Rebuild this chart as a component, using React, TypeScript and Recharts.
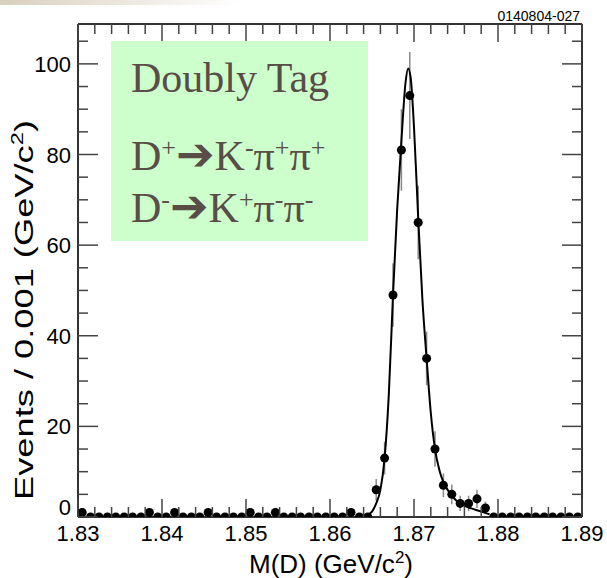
import React from 'react';
import { ComposedChart, XAxis, YAxis, Scatter, Line, ErrorBar } from 'recharts';

// bins of 1 MeV from 1.83 to 1.89
const binStart = 1.83;
const binWidth = 0.001;
const counts = [
  1, 0, 0, 0, 0, 0, 0, 0, 1, 0,
  0, 1, 0, 0, 0, 1, 0, 0, 0, 0,
  1, 0, 0, 1, 0, 0, 0, 0, 0, 0,
  0, 0, 1, 0, 0, 6, 13, 49, 81, 93,
  65, 35, 15, 7, 5, 3, 3, 4, 2, 0,
  0, 0, 0, 0, 0, 0, 0, 0, 0, 0,
];
const errors = [
  1, 0, 0, 0, 0, 0, 0, 0, 1, 0,
  0, 1, 0, 0, 0, 1, 0, 0, 0, 0,
  1, 0, 0, 1, 0, 0, 0, 0, 0, 0,
  0, 0, 1, 0, 0, 2.4, 3.6, 7, 9, 9.6,
  8.1, 5.9, 3.9, 2.6, 2.2, 1.7, 1.7, 2, 1.4, 0,
  0, 0, 0, 0, 0, 0, 0, 0, 0, 0,
];

// fit curve
const fitMass = [
  1.8638, 1.8645, 1.865, 1.8655, 1.866, 1.8665, 1.867, 1.8675, 1.868, 1.8685,
  1.869, 1.8693, 1.8696, 1.87, 1.8705, 1.871, 1.8715, 1.872, 1.8725, 1.873,
  1.8735, 1.874, 1.8745, 1.875, 1.8755, 1.876, 1.8765, 1.877, 1.8775, 1.878,
  1.8785, 1.879,
];
const fitEvents = [
  0, 0.5, 1.2, 3, 6, 13, 27, 49, 68, 83,
  96, 99, 97, 86, 66, 48, 35, 23, 15, 10.5,
  7.7, 6, 4.7, 3.7, 3.0, 2.5, 2.1, 1.8, 1.5, 1.2,
  0.9, 0.6,
];

const xMajor = [1.83, 1.84, 1.85, 1.86, 1.87, 1.88, 1.89];
const yMajor = [0, 20, 40, 60, 80, 100];

const xTicks: number[] = [];
for (let k = 0; k <= 30; k++) xTicks.push(Math.round((1.83 + k * 0.002) * 1000) / 1000);
const yTicks: number[] = [];
for (let k = 0; k <= 21; k++) yTicks.push(k * 5);

const points = counts.map((n, i) => ({
  x: binStart + (i + 0.5) * binWidth,
  y: n,
  err: errors[i],
}));
const fit = fitMass.map((m, i) => ({ x: m, y: fitEvents[i] }));

const AXIS_FONT = '"Liberation Sans", Arial, sans-serif';
const TICK = '#444';

const isXMajor = (v: number) => xMajor.some(m => Math.abs(m - v) < 1e-6);

const makeXTick = (side: 'bottom' | 'top') => (props: any) => {
  const { x, y, payload } = props;
  const v = payload.value;
  const major = isXMajor(v);
  const len = major ? 18 : 10;
  const dir = side === 'bottom' ? -1 : 1;
  return (
    <g>
      <line x1={x} x2={x} y1={y} y2={y + dir * len} stroke={TICK} strokeWidth={1.5} />
      {major && side === 'bottom' && (
        <text x={x} y={y + 24} textAnchor="middle" fontSize={22} fontFamily={AXIS_FONT} fill="#000">
          {v.toFixed(2)}
        </text>
      )}
    </g>
  );
};

const makeYTick = (side: 'left' | 'right') => (props: any) => {
  const { x, y, payload } = props;
  const v = payload.value;
  const major = yMajor.includes(v);
  const len = major ? 20 : 10;
  const dir = side === 'left' ? 1 : -1;
  // the zero label sits higher so it clears the 1.83 label
  const ly = v === 0 ? y - 2 : y + 8;
  return (
    <g>
      <line x1={x} x2={x + dir * len} y1={y} y2={y} stroke={TICK} strokeWidth={1.5} />
      {major && side === 'left' && (
        <text x={x - 7} y={ly} textAnchor="end" fontSize={22} fontFamily={AXIS_FONT} fill="#000">
          {v}
        </text>
      )}
    </g>
  );
};

const boxText = '#5a4c46';
const sup = { fontSize: 26 };
const arrow = { fontFamily: '"DejaVu Sans", sans-serif', fontSize: 46 };
const frame = { stroke: '#333', strokeWidth: 2 };

export default function App() {
  return (
    <div style={{ position: 'absolute', left: 0, top: 0, width: 607, height: 578, background: '#fff' }}>
      <div style={{
        position: 'absolute', left: 0, top: 0, width: 240, height: 5,
        background: 'linear-gradient(to right, #d9cfbd, #ffffff)',
      }} />
      <ComposedChart
        width={607}
        height={578}
        margin={{ top: 0, right: 0, bottom: 0, left: 0 }}
      >
        <XAxis
          type="number"
          dataKey="x"
          domain={[1.83, 1.89]}
          ticks={xTicks}
          interval={0}
          height={61}
          tickSize={0}
          tickMargin={0}
          tickLine={false}
          axisLine={frame}
          tick={makeXTick('bottom')}
          allowDataOverflow
        />
        <XAxis
          xAxisId="top"
          orientation="top"
          type="number"
          dataKey="x"
          domain={[1.83, 1.89]}
          ticks={xTicks}
          interval={0}
          height={24}
          tickSize={0}
          tickMargin={0}
          tickLine={false}
          axisLine={frame}
          tick={makeXTick('top')}
          allowDataOverflow
        />
        <YAxis
          type="number"
          domain={[0, 108.8]}
          ticks={yTicks}
          interval={0}
          width={78}
          tickSize={0}
          tickMargin={0}
          tickLine={false}
          axisLine={frame}
          tick={makeYTick('left')}
          allowDataOverflow
        />
        <YAxis
          yAxisId="right"
          orientation="right"
          type="number"
          domain={[0, 108.8]}
          ticks={yTicks}
          interval={0}
          width={25}
          tickSize={0}
          tickMargin={0}
          tickLine={false}
          axisLine={frame}
          tick={makeYTick('right')}
          allowDataOverflow
        />
        <Scatter data={points} dataKey="y" fill="#000" shape="circle" isAnimationActive={false}>
          <ErrorBar dataKey="err" direction="y" width={0} stroke="#888" strokeWidth={1.5} />
        </Scatter>
        <Line
          data={fit}
          dataKey="y"
          type="monotone"
          stroke="#000"
          strokeWidth={2}
          dot={false}
          isAnimationActive={false}
        />
      </ComposedChart>

      <svg width={607} height={578} style={{ position: 'absolute', left: 0, top: 0, pointerEvents: 'none' }}>
        <text x={580} y={21} textAnchor="end" fontSize={14} fontFamily={AXIS_FONT} fill="#000">0140804-027</text>
        <rect x={111} y={41} width={257} height={200} fill="#ccffcc" />
        <g fontFamily='"Liberation Serif", "Times New Roman", serif' fill={boxText} fontSize={42}>
          <text x={131} y={92}>Doubly Tag</text>
          <text x={131} y={170}>
            D<tspan dy={-14} {...sup}>+</tspan>
            <tspan dy={14} {...arrow}>➔</tspan>
            K<tspan dy={-14} {...sup}>-</tspan>
            <tspan dy={14}>π</tspan><tspan dy={-14} {...sup}>+</tspan>
            <tspan dy={14}>π</tspan><tspan dy={-14} {...sup}>+</tspan>
          </text>
          <text x={131} y={222}>
            D<tspan dy={-14} {...sup}>-</tspan>
            <tspan dy={14} {...arrow}>➔</tspan>
            K<tspan dy={-14} {...sup}>+</tspan>
            <tspan dy={14}>π</tspan><tspan dy={-14} {...sup}>-</tspan>
            <tspan dy={14}>π</tspan><tspan dy={-14} {...sup}>-</tspan>
          </text>
        </g>
        <text x={331} y={573} textAnchor="middle" fontSize={26} fontFamily={AXIS_FONT} fill="#000">
          M(D) (GeV/c<tspan dy={-10} fontSize={17}>2</tspan><tspan dy={10}>)</tspan>
        </text>
        <text
          transform="translate(33, 310) rotate(-90)"
          textAnchor="middle"
          fontSize={26}
          fontFamily={AXIS_FONT}
          fill="#000"
          textLength={380}
          lengthAdjust="spacingAndGlyphs"
        >
          Events / 0.001 (GeV/c<tspan dy={-10} fontSize={17}>2</tspan><tspan dy={10}>)</tspan>
        </text>
      </svg>
    </div>
  );
}
